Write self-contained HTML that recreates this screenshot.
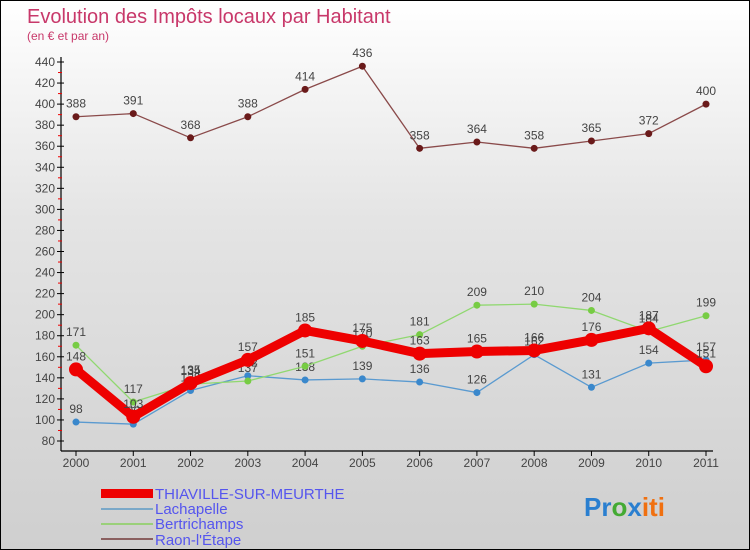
<!DOCTYPE html>
<html><head><meta charset="utf-8"><style>
body{margin:0}
#c{position:relative;width:748px;height:548px;border:1px solid #000;background:linear-gradient(#fff 0%,#e4e4e4 40%,#cfcfcf 100%);font-family:"Liberation Sans",sans-serif;overflow:hidden}
</style></head><body>
<div id="c">
<svg id="s" width="748" height="548" style="position:absolute;left:0;top:0">
<text x="26" y="22" font-size="20" fill="#c8386a">Evolution des Impôts locaux par Habitant</text>
<text x="26" y="39" font-size="12" fill="#c8386a">(en € et par an)</text>
<g id="axes"></g><g id="series"></g>
<g font-size="15" fill="#5555ee">
<rect x="100" y="488" width="52" height="9" fill="#ee0000"/>
<text x="154" y="498">THIAVILLE-SUR-MEURTHE</text>
<rect x="100" y="507" width="52" height="2" fill="#7aa8c8"/>
<text x="154" y="513">Lachapelle</text>
<rect x="100" y="522" width="52" height="2" fill="#9ad07a"/>
<text x="154" y="528">Bertrichamps</text>
<rect x="100" y="537" width="52" height="2" fill="#8a6060"/>
<text x="154" y="544">Raon-l'Étape</text>
</g>
<text x="583" y="515" font-size="26" font-weight="bold"><tspan fill="#2a7fd0">Pr</tspan><tspan fill="#44aa33">o</tspan><tspan fill="#2a7fd0">x</tspan><tspan fill="#f07010">iti</tspan></text>
</svg>
</div>
<script>
const years=["2000","2001","2002","2003","2004","2005","2006","2007","2008","2009","2010","2011"];
const yTicks=[80,100,120,140,160,180,200,220,240,260,280,300,320,340,360,380,400,420,440];
const thiaville=[148,103,135,157,185,175,163,165,166,176,187,151];
const lachapelle=[98,96,128,142,138,139,136,126,162,131,154,157];
const bertrichamps=[171,117,134,137,151,170,181,209,210,204,184,199];
const raon=[388,391,368,388,414,436,358,364,358,365,372,400];
const NS="http://www.w3.org/2000/svg";
function X(i){return 75+i*(630/11);}
function Y(v){return 440-(v-80)*(379/360);}
function mk(t,a,p){const e=document.createElementNS(NS,t);for(const k in a)e.setAttribute(k,a[k]);p.appendChild(e);return e;}
const ax=document.getElementById('axes');
let e=mk('line',{x1:60,y1:56,x2:60,y2:450,stroke:'#000','stroke-width':1.2},ax);


e=mk('line',{x1:60,y1:450,x2:712,y2:450,stroke:'#000','stroke-width':1.2},ax);


yTicks.forEach((v,i)=>{
 mk('line',{x1:56,y1:Y(v),x2:63,y2:Y(v),stroke:'#000'},ax);
 if(i<yTicks.length-1)mk('line',{x1:57,y1:Y(v+10),x2:61,y2:Y(v+10),stroke:'#e00'},ax);
 const t=mk('text',{x:54,y:Y(v)+4,'text-anchor':'end','font-size':12,fill:'#444'},ax);t.textContent=v;
 
 
});
years.forEach((y,i)=>{
 mk('line',{x1:X(i),y1:450,x2:X(i),y2:455,stroke:'#000'},ax);
 const t=mk('text',{x:X(i),y:466,'text-anchor':'middle','font-size':12,fill:'#444'},ax);t.textContent=y;
 
 
});
const sg=document.getElementById('series');
function series(d,col,dot,w,r,name){
 const g=mk('g',{},sg);
 
 
 mk('polyline',{points:d.map((v,i)=>X(i)+','+Y(v)).join(' '),fill:'none',stroke:col,'stroke-width':w,'stroke-linejoin':'round'},g);
 d.forEach((v,i)=>{
  const c=mk('circle',{cx:X(i),cy:Y(v),r:r,fill:dot},g);
  
  
  const t=mk('text',{x:X(i),y:Y(v)-9,'text-anchor':'middle','font-size':12,fill:'#444'},g);t.textContent=v;
  
  
 });
}
series(raon,'#8a4a4a','#6a1a1a',1.3,3.5,'series-raon');
series(lachapelle,'#5a9ad0','#3a88cc',1.3,3.5,'series-lachapelle');
series(bertrichamps,'#90d870','#77cc44',1.3,3.5,'series-bertrichamps');
series(thiaville,'#ee0000','#ee0000',9,7,'series-thiaville');
</script>
</body></html>
